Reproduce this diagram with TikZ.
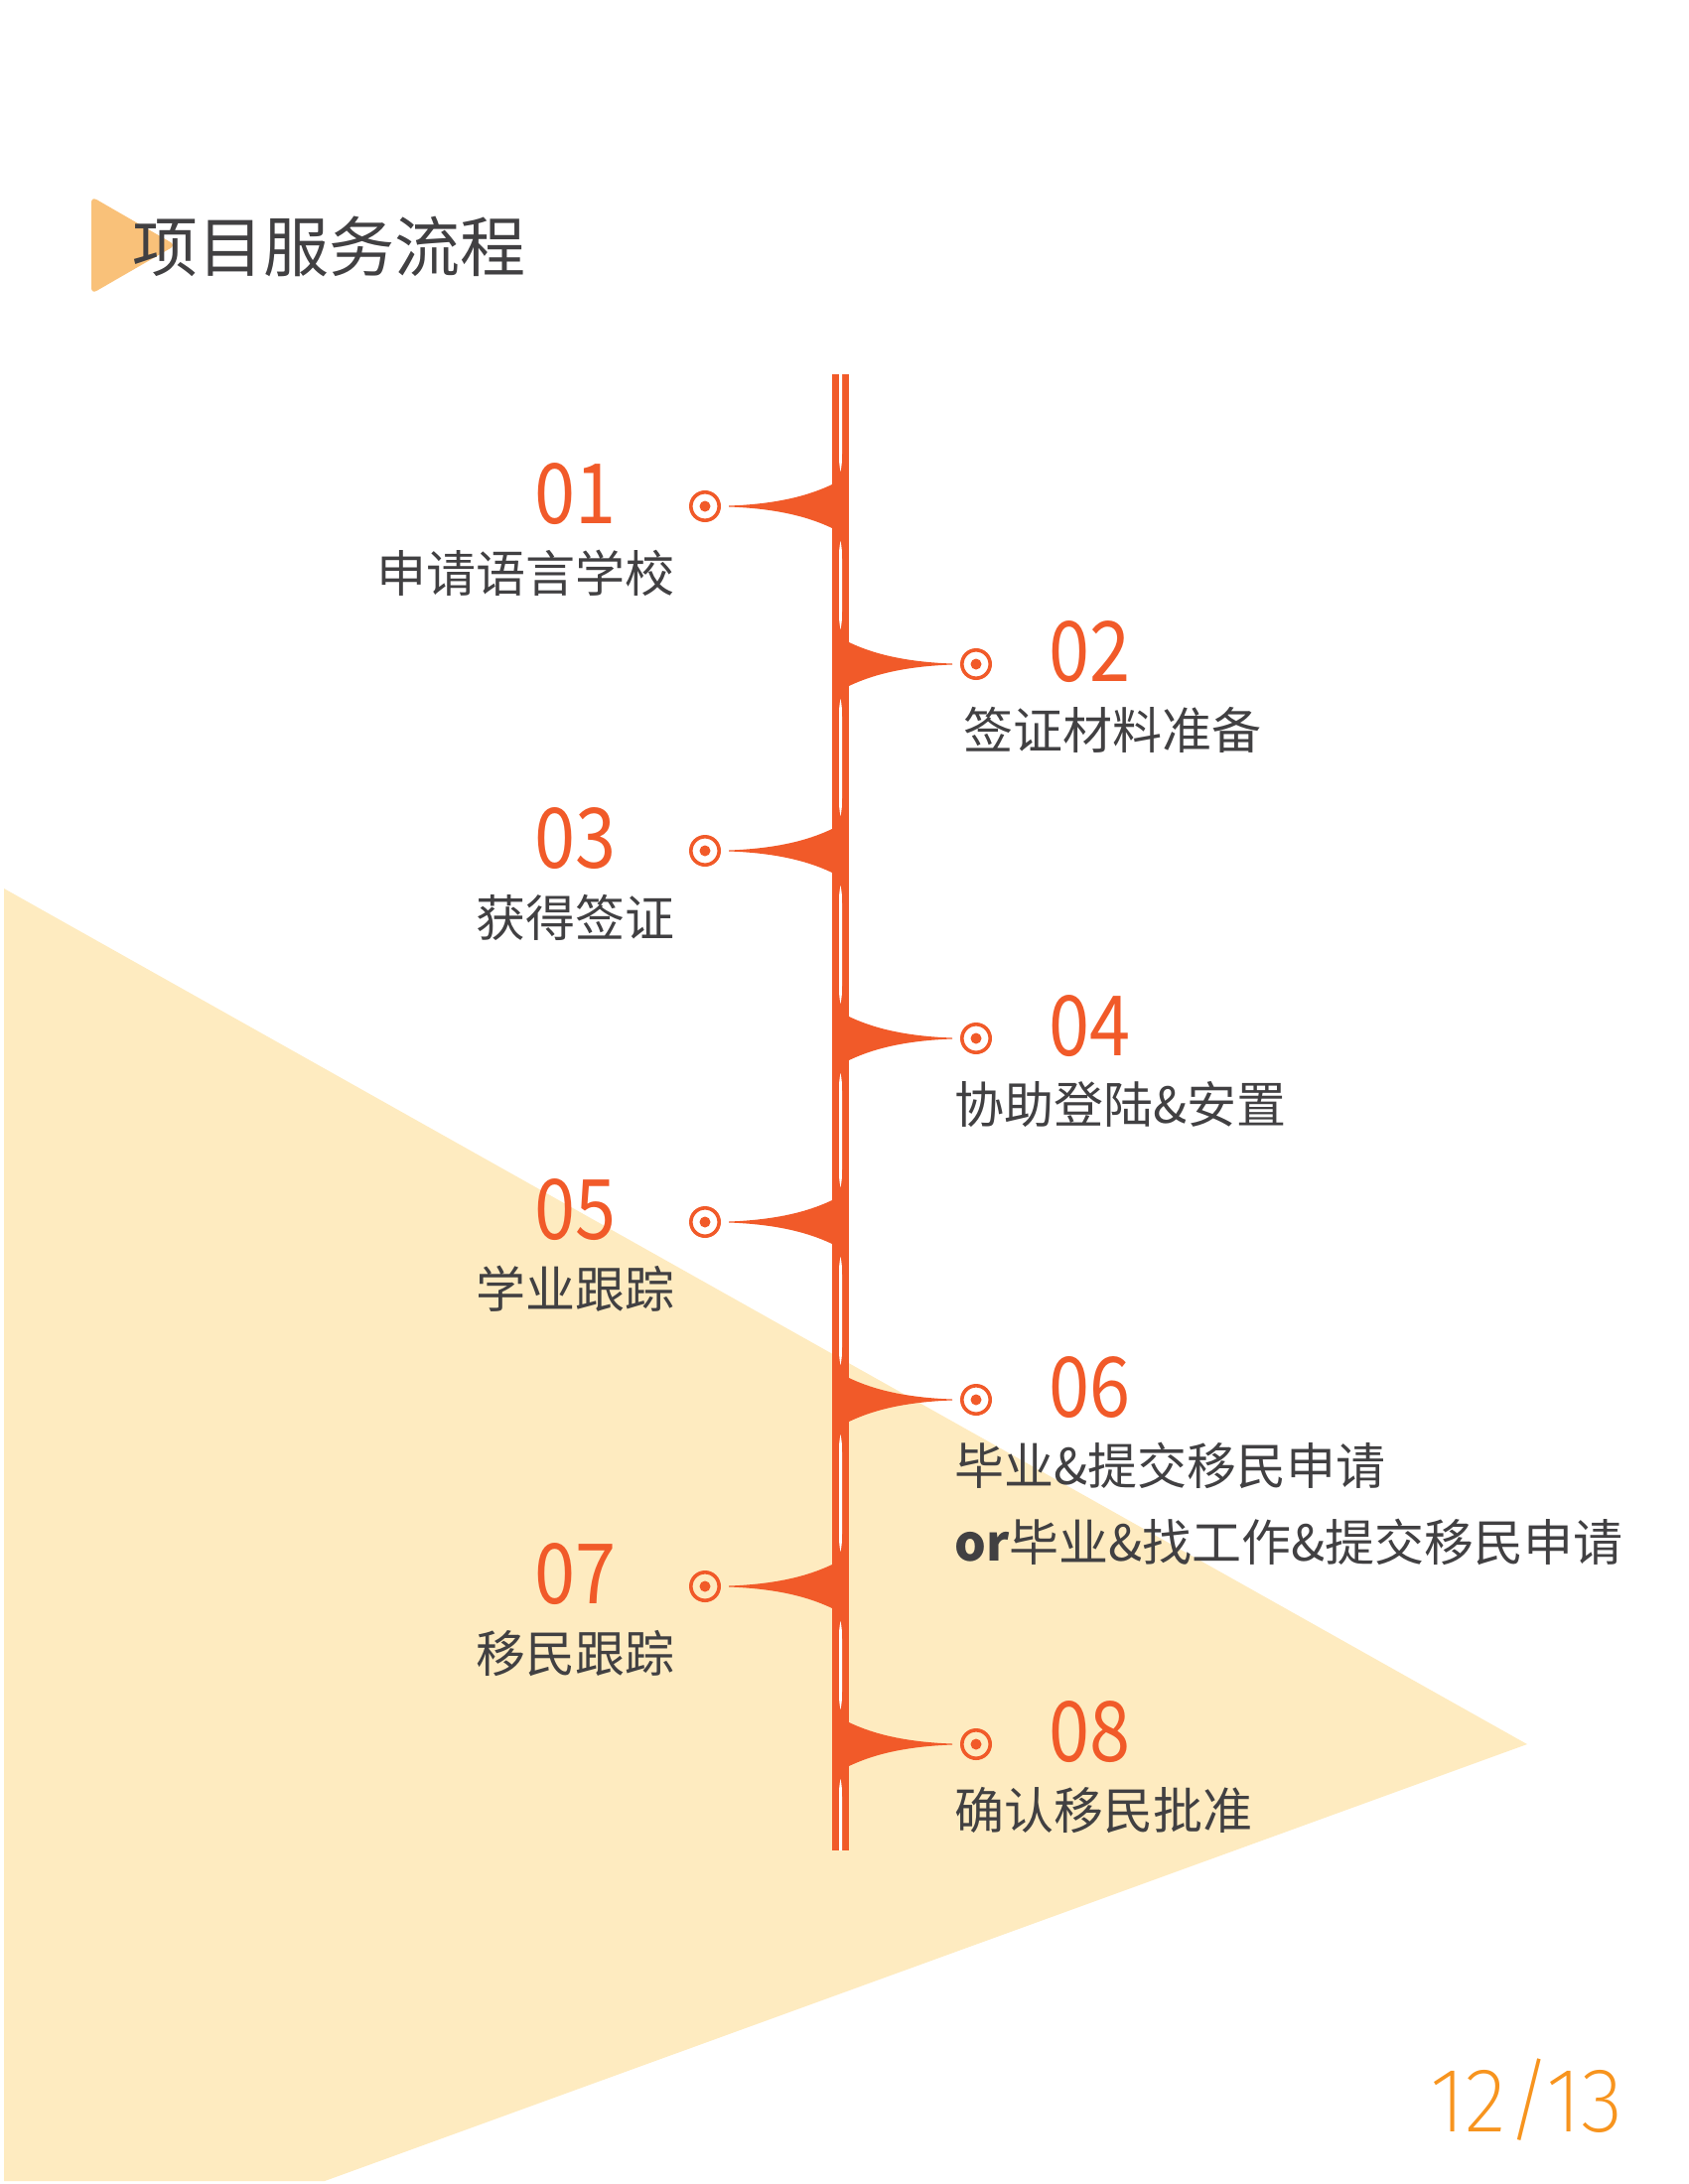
\documentclass[tikz,border=0pt]{standalone}
\usepackage{fontspec}
\newfontfamily\cjk{Noto Sans CJK SC}
\newfontfamily\numfont{Noto Sans CJK SC}[FakeStretch=0.88]
\IfFontExistsTF{Fira Sans ExtraLight}{\newfontfamily\pagefont{Fira Sans ExtraLight}[FakeStretch=0.95]}{%
  \IfFontExistsTF{Fira Sans Light}{\newfontfamily\pagefont{Fira Sans Light}[FakeStretch=0.95]}{%
    \IfFontExistsTF{DejaVu Sans ExtraLight}{\newfontfamily\pagefont{DejaVu Sans ExtraLight}[FakeStretch=0.85]}{%
      \newfontfamily\pagefont{Fira Sans}[FakeStretch=0.9]}}}
\definecolor{flowOrange}{HTML}{F15A29}
\definecolor{titleTri}{HTML}{F9C179}
\definecolor{bgYellow}{HTML}{FEEBC0}
\definecolor{pageOrange}{HTML}{F7941E}
\definecolor{textGray}{HTML}{414042}
\tikzset{
  num/.style={inner sep=0pt, text=flowOrange, font=\numfont\fontsize{84}{84}\selectfont},
  lbl/.style={inner sep=0pt, text=textGray, font=\cjk\fontsize{50}{50}\selectfont},
  dotring/.style={circle, draw=flowOrange, line width=3.6pt, minimum size=28.4pt, inner sep=0pt},
}

\begin{document}
\begin{tikzpicture}[x=1pt, y=-1pt]
		\useasboundingbox (0,0) rectangle (1700,2200);
		\fill[bgYellow] (4,895) -- (1538,1757) -- (327,2197) -- (4,2197) -- cycle;
		
		\fill[titleTri, rounded corners=6pt] (92,198) -- (177,247) -- (92,296) -- cycle;
		\node (title) [anchor=base west, inner sep=0pt, text=textGray, font=\cjk\fontsize{66}{66}\selectfont] at (133,273) {项目服务流程};
		
		\fill[flowOrange] (838,377) rectangle (855,1864);
		\fill[white] (845,377) -- (845,450) .. controls (845,467) .. (846.5,475) .. controls (848,467) .. (848,450) -- (848,377) -- cycle;
		\foreach \ya/\yb in {545/634, 704/822, 892/1011, 1081/1196, 1266/1375, 1445/1563, 1633/1722} {
			\fill[white] (846.5,\ya) .. controls (845,\ya+8) .. (845,\ya+25) -- (845,\yb-25) .. controls (845,\yb-8) .. (846.5,\yb) .. controls (848,\yb-8) .. (848,\yb-25) -- (848,\ya+25) .. controls (848,\ya+8) .. cycle;
		}
		\fill[white] (846.5,1792) .. controls (845,1800) .. (845,1817) -- (845,1864) -- (848,1864) -- (848,1817) .. controls (848,1800) .. cycle;
		
		\foreach \n/\y/\txt in {01/510/申请语言学校, 03/857/获得签证, 05/1231/学业跟踪, 07/1598/移民跟踪} {
			\fill[flowOrange] (838,\y-22) .. controls (820,\y-13.5) and (790,\y-2.5) .. (734,\y-0.5) -- (734,\y+0.5) .. controls (790,\y+2.5) and (820,\y+13.5) .. (838,\y+22) -- cycle;
			\node (c\n) [dotring] at (710,\y) {};
			\fill[flowOrange] (c\n) circle (5.5pt);
			\node (n\n) [num, anchor=base east] at (621,\y+17) {\n};
			\node (t\n) [lbl, anchor=base east] at (680,\y+86) {\txt};
		}
		\foreach \n/\y/\tx/\txt in {02/669/970/签证材料准备, 04/1046/961/协助登陆\&安置, 06/1410/961/毕业\&提交移民申请, 08/1757/961/确认移民批准} {
			\fill[flowOrange] (855,\y-22) .. controls (873,\y-13.5) and (903,\y-2.5) .. (959,\y-0.5) -- (959,\y+0.5) .. controls (903,\y+2.5) and (873,\y+13.5) .. (855,\y+22) -- cycle;
			\node (c\n) [dotring] at (983,\y) {};
			\fill[flowOrange] (c\n) circle (5.5pt);
			\node (n\n) [num, anchor=base west] at (1056,\y+17) {\n};
			\node (t\n) [lbl, anchor=base west] at (\tx,\y+85) {\txt};
		}
		\node (t06b) [lbl, anchor=base west] at (961,1572) {{\bfseries or}毕业\&找工作\&提交移民申请};
		
		\node (page) [anchor=base west, inner sep=0pt, text=pageOrange, font=\pagefont\fontsize{92}{92}\selectfont] at (1440,2147) {12/13};
	\end{tikzpicture}
\end{document}
